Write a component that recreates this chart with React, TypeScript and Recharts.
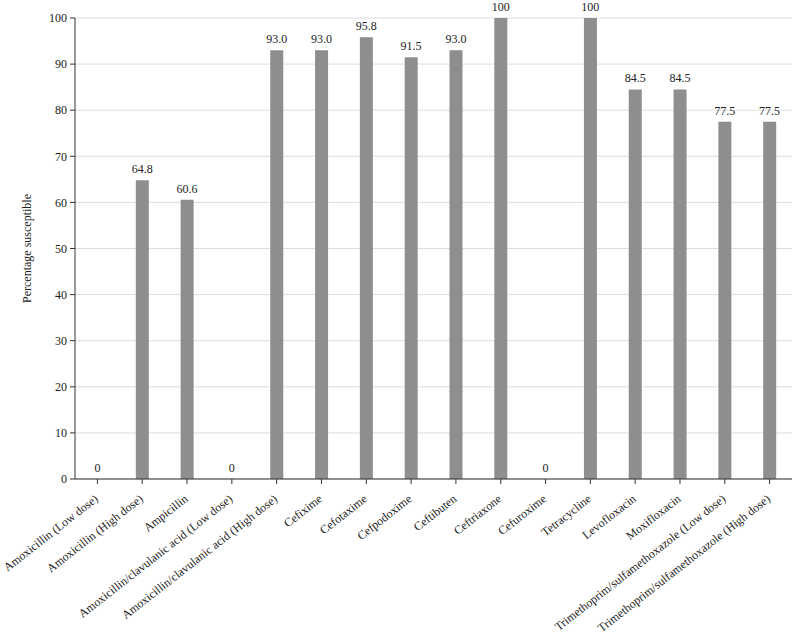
import React from 'react';
import { ComposedChart, Bar, Line, XAxis, YAxis, CartesianGrid, LabelList } from 'recharts';

const categories = [
  'Amoxicillin (Low dose)',
  'Amoxicillin (High dose)',
  'Ampicillin',
  'Amoxicillin/clavulanic acid (Low dose)',
  'Amoxicillin/clavulanic acid (High dose)',
  'Cefixime',
  'Cefotaxime',
  'Cefpodoxime',
  'Ceftibuten',
  'Ceftriaxone',
  'Cefuroxime',
  'Tetracycline',
  'Levofloxacin',
  'Moxifloxacin',
  'Trimethoprim/sulfamethoxazole (Low dose)',
  'Trimethoprim/sulfamethoxazole (High dose)',
];

const susceptible = [0, 64.8, 60.6, 0, 93.0, 93.0, 95.8, 91.5, 93.0, 100, 0, 100, 84.5, 84.5, 77.5, 77.5];

const yTicks = [0, 10, 20, 30, 40, 50, 60, 70, 80, 90, 100];

const data = categories.map((name, i) => ({ name, value: susceptible[i] }));

const FONT = 'Liberation Serif';

const fmt = (v: number) => (v === 0 || v === 100 ? String(v) : v.toFixed(1));

const XTick = (props: any) => {
  const { x, y, payload } = props;
  return (
    <g transform={`translate(${x - 1},${y + 11})`}>
      <text
        x={0}
        y={0}
        dy="0.35em"
        textAnchor="end"
        transform="rotate(-38)"
        style={{ fontFamily: FONT, fontSize: 12 }}
        fill="#222"
      >
        {payload.value}
      </text>
    </g>
  );
};

export default function App() {
  return (
    <div style={{ position: 'absolute', left: 0, top: 0, background: '#fff', fontFamily: FONT }}>
      <ComposedChart
        width={794}
        height={641}
        data={data}
        margin={{ top: 18, right: 2, left: 0, bottom: 0 }}
        barCategoryGap={0}
        style={{ fontFamily: FONT }}
      >
        <CartesianGrid vertical={false} stroke="#dddddd" />
        <XAxis
          dataKey="name"
          interval={0}
          height={162}
          tick={<XTick />}
          tickSize={5}
          axisLine={{ stroke: '#333' }}
          tickLine={{ stroke: '#333' }}
        />
        <YAxis
          width={75}
          domain={[0, 100]}
          ticks={yTicks}
          tickSize={5}
          tickMargin={3}
          axisLine={{ stroke: '#333' }}
          tickLine={{ stroke: '#333' }}
          tick={{ fontFamily: FONT, fontSize: 12, fill: '#222' }}
          label={{
            value: 'Percentage susceptible',
            angle: -90,
            position: 'insideLeft',
            dx: 22,
            style: { fontFamily: FONT, fontSize: 12, fill: '#222', textAnchor: 'middle' },
          }}
        />
        <Bar dataKey="value" fill="#8e8e8e" barSize={13} isAnimationActive={false} />
        <Line
          dataKey="value"
          stroke="none"
          dot={false}
          activeDot={false}
          legendType="none"
          isAnimationActive={false}
        >
          <LabelList
            dataKey="value"
            position="top"
            offset={7}
            formatter={(v: any) => fmt(Number(v))}
            style={{ fontFamily: FONT, fontSize: 12, fill: '#222' }}
          />
        </Line>
      </ComposedChart>
    </div>
  );
}
